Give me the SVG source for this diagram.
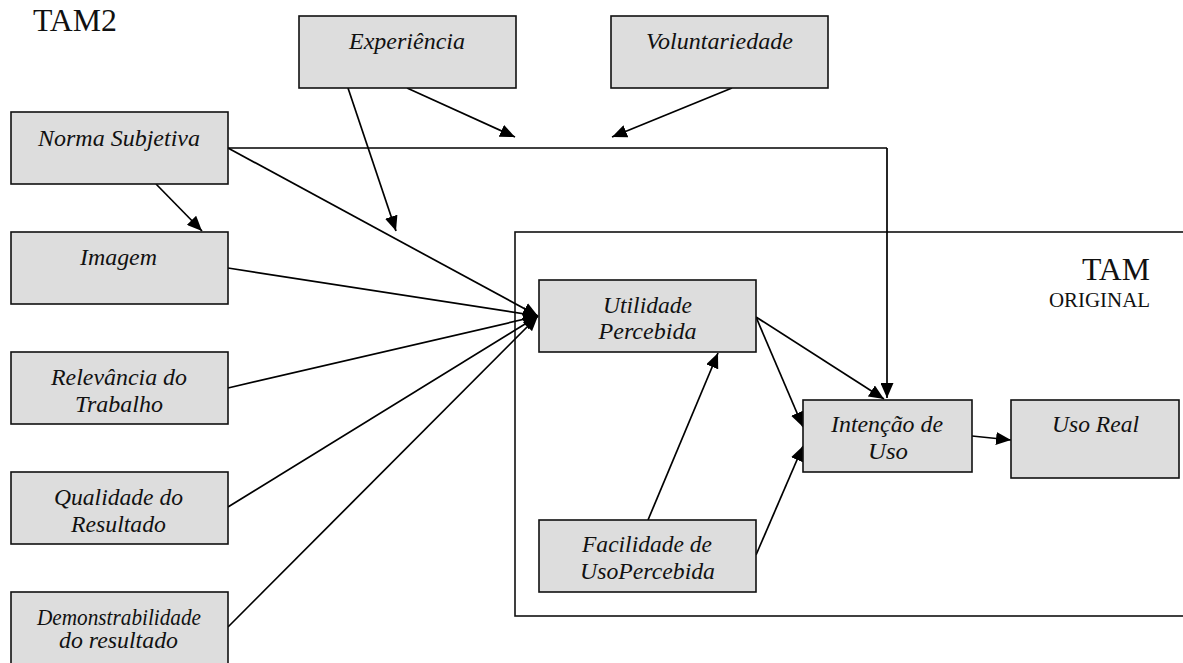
<svg xmlns="http://www.w3.org/2000/svg" width="1183" height="663" viewBox="0 0 1183 663">
  <defs>
    <style>
      .box { fill: #dddddd; stroke: #111111; stroke-width: 1.6; }
      .frame { fill: none; stroke: #111111; stroke-width: 1.6; }
      .lbl { font-family: "Liberation Serif", "Times New Roman", serif; font-style: italic; font-size: 23px; fill: #111111; text-anchor: middle; }
      .title { font-family: "Liberation Serif", "Times New Roman", serif; fill: #111111; }
      .wire { fill: none; stroke: #000000; stroke-width: 1.7; }
      .arr { fill: none; stroke: #000000; stroke-width: 1.7; marker-end: url(#head); }
    </style>
    <marker id="head" markerUnits="userSpaceOnUse" markerWidth="16" markerHeight="13" refX="15" refY="6.5" orient="auto">
      <path d="M0,0 L15,6.5 L0,13 z" fill="#000000"/>
    </marker>
  </defs>

  <rect width="1183" height="663" fill="#ffffff"/>

  <text class="title" x="33" y="31" font-size="31" textLength="84" lengthAdjust="spacingAndGlyphs">TAM2</text>

  <!-- original TAM frame -->
  <g id="tam-original">
    <rect class="frame" x="515" y="232" width="690" height="384"/>
    <text class="title" x="1150" y="280" font-size="32" text-anchor="end" textLength="68" lengthAdjust="spacingAndGlyphs">TAM</text>
    <text class="title" x="1150" y="307" font-size="20" text-anchor="end" textLength="101" lengthAdjust="spacingAndGlyphs">ORIGINAL</text>
  </g>

  <!-- connectors -->
  <g id="connectors">
    <path class="wire" d="M228,148 H887"/>
    <path class="arr" d="M887,148 V398"/>
    <path class="arr" d="M407,88 L515,137"/>
    <path class="arr" d="M732,88 L612,137"/>
    <path class="arr" d="M348,88 L396,231"/>
    <path class="arr" d="M156,184 L202,231"/>
    <path class="arr" d="M228,148 L538,316"/>
    <path class="arr" d="M228,268 L538,316"/>
    <path class="arr" d="M228,388 L538,316"/>
    <path class="arr" d="M228,507 L538,316"/>
    <path class="arr" d="M228,627 L538,316"/>
    <path class="arr" d="M756,317 L884,399"/>
    <path class="arr" d="M756,317 L803,427"/>
    <path class="arr" d="M648,520 L718,353"/>
    <path class="arr" d="M756,555 L803,446"/>
    <path class="arr" d="M972,436 L1011,440"/>
  </g>

  <g id="experiencia">
    <rect class="box" x="299" y="16" width="217" height="72"/>
    <text class="lbl" x="407" y="49" textLength="116" lengthAdjust="spacingAndGlyphs">Experiência</text>
  </g>

  <g id="voluntariedade">
    <rect class="box" x="611" y="16" width="217" height="72"/>
    <text class="lbl" x="719.5" y="49" textLength="147" lengthAdjust="spacingAndGlyphs">Voluntariedade</text>
  </g>

  <g id="norma-subjetiva">
    <rect class="box" x="11" y="112" width="217" height="72"/>
    <text class="lbl" x="119" y="146" textLength="162" lengthAdjust="spacingAndGlyphs">Norma Subjetiva</text>
  </g>

  <g id="imagem">
    <rect class="box" x="11" y="232" width="217" height="72"/>
    <text class="lbl" x="118.5" y="265" textLength="77" lengthAdjust="spacingAndGlyphs">Imagem</text>
  </g>

  <g id="relevancia">
    <rect class="box" x="11" y="352" width="217" height="72"/>
    <text class="lbl" x="119" y="385" textLength="136" lengthAdjust="spacingAndGlyphs">Relevância do</text>
    <text class="lbl" x="119" y="412" textLength="88" lengthAdjust="spacingAndGlyphs">Trabalho</text>
  </g>

  <g id="qualidade">
    <rect class="box" x="11" y="472" width="217" height="72"/>
    <text class="lbl" x="118.5" y="505" textLength="129" lengthAdjust="spacingAndGlyphs">Qualidade do</text>
    <text class="lbl" x="118.5" y="532" textLength="95" lengthAdjust="spacingAndGlyphs">Resultado</text>
  </g>

  <g id="demonstrabilidade">
    <rect class="box" x="11" y="592" width="217" height="72"/>
    <text class="lbl" x="119" y="625" font-size="21" textLength="164" lengthAdjust="spacingAndGlyphs">Demonstrabilidade</text>
    <text class="lbl" x="118.5" y="648" textLength="119" lengthAdjust="spacingAndGlyphs">do resultado</text>
  </g>

  <g id="utilidade">
    <rect class="box" x="539" y="280" width="217" height="72"/>
    <text class="lbl" x="647.5" y="313" textLength="89" lengthAdjust="spacingAndGlyphs">Utilidade</text>
    <text class="lbl" x="647.5" y="339" textLength="98" lengthAdjust="spacingAndGlyphs">Percebida</text>
  </g>

  <g id="facilidade">
    <rect class="box" x="539" y="520" width="217" height="72"/>
    <text class="lbl" x="647" y="552" textLength="130" lengthAdjust="spacingAndGlyphs">Facilidade de</text>
    <text class="lbl" x="647.5" y="579" textLength="135" lengthAdjust="spacingAndGlyphs">UsoPercebida</text>
  </g>

  <g id="intencao">
    <rect class="box" x="803" y="400" width="169" height="72"/>
    <text class="lbl" x="887" y="432" textLength="112" lengthAdjust="spacingAndGlyphs">Intenção de</text>
    <text class="lbl" x="888" y="459" textLength="40" lengthAdjust="spacingAndGlyphs">Uso</text>
  </g>

  <g id="uso-real">
    <rect class="box" x="1011" y="400" width="168" height="78"/>
    <text class="lbl" x="1095.5" y="432" textLength="87" lengthAdjust="spacingAndGlyphs">Uso Real</text>
  </g>
</svg>
